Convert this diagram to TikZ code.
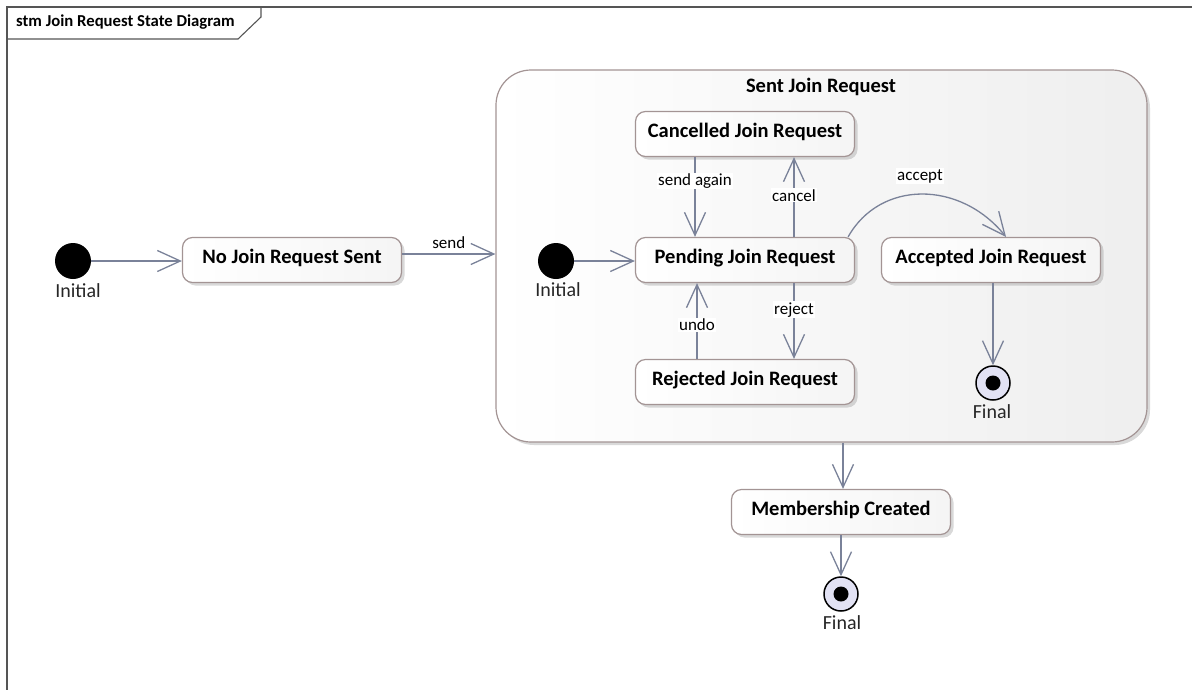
\documentclass[tikz,border=0pt]{standalone}
\usepackage{fontspec}
\setmainfont{Carlito}
\usetikzlibrary{arrows.meta,shadows,calc}
\definecolor{edge}{HTML}{7A8299}
\definecolor{bord}{HTML}{A39494}
\definecolor{finfill}{HTML}{E2E2F4}
\definecolor{framec}{HTML}{555555}
\begin{document}
\begin{tikzpicture}[x=1pt,y=-1pt,
  shad/.style={drop shadow={shadow xshift=3pt,shadow yshift=-3pt,opacity=.3}},
  state/.style={draw=bord, line width=1.2pt, rounded corners=10pt,
    minimum width=219pt, minimum height=45pt, inner sep=0pt,
    left color=white, right color=gray!8, shad,
    text height=15pt, text depth=9pt,
    font=\fontsize{20.5}{24}\selectfont\bfseries},
  comp/.style={draw=bord, line width=1.2pt, rounded corners=35pt,
    left color=white, right color=gray!13, shad, inner sep=0pt},
  tr/.style={draw=edge, line width=1.3pt, -{Straight Barb[length=23pt,width=21pt]}},
  lbl/.style={fill=white, inner sep=1pt, font=\fontsize{17}{19}\selectfont},
  pslbl/.style={inner sep=0pt, font=\fontsize{20}{23}\selectfont, text=black!85},
  init/.style={circle, fill=black, minimum size=36pt, inner sep=0pt},
  fin/.style={circle, draw=black, line width=1.5pt, fill=finfill, minimum size=34pt, inner sep=0pt},
  findot/.style={circle, fill=black, minimum size=15pt, inner sep=0pt}
]
\useasboundingbox (0,0) rectangle (1192,689);
% frame
\draw[framec, line width=1.3pt] (7,695) -- (7,7) -- (1195,7);
\draw[framec, line width=1.1pt] (7,39) -- (238,39) -- (261,17) -- (261,7);
\node[anchor=west, inner sep=0pt, font=\fontsize{16.7}{19}\selectfont\bfseries] (title) at (16,22) {stm Join Request State Diagram};

% left part
\node[init] (i1) at (73,261) {};
\node[pslbl] (i1l) at (78,291) {Initial};
\node[state] (nj) at (292,260) {No Join Request Sent};

% composite
\node[comp, minimum width=651pt, minimum height=372pt] (sent) at (821.5,256) {};
\node[inner sep=0pt, font=\fontsize{20.5}{24}\selectfont\bfseries] (sentl) at (821,87) {Sent Join Request};

\node[state] (canc) at (745,134) {Cancelled Join Request};
\node[state] (pend) at (745,260) {Pending Join Request};
\node[state] (rej) at (745,382) {Rejected Join Request};
\node[state] (acc) at (991,260) {Accepted Join Request};

\node[init] (i2) at (556,261) {};
\node[pslbl] (i2l) at (558,290) {Initial};

\node[fin] (f1) at (993,383) {};
\node[findot] (f1d) at (993,383) {};
\node[pslbl] (f1l) at (992,412) {Final};

\node[state] (mc) at (841,512) {Membership Created};
\node[fin] (f2) at (841,594) {};
\node[findot] (f2d) at (841,594) {};
\node[pslbl] (f2l) at (842,623) {Final};

% transitions
\draw[tr] (i1) -- (nj.west |- i1);
\draw[tr] (nj.east |- 0,254) -- (sent.west |- 0,254) node[lbl, midway, above=4pt] (sendl) {send};
\draw[tr] (i2) -- (pend.west |- i2);
\draw[tr] (canc.south -| 695,0) -- (pend.north -| 695,0) node[lbl, pos=0.3] (sal) {send again};
\draw[tr] (pend.north -| 794,0) -- (canc.south -| 794,0) node[lbl, pos=0.52] (cl) {cancel};
\draw[tr] (rej.north -| 697,0) -- (pend.south -| 697,0) node[lbl, pos=0.45] (ul) {undo};
\draw[tr] (pend.south -| 794,0) -- (rej.north -| 794,0) node[lbl, pos=0.35] (rl) {reject};
\draw[tr] ([xshift=-7pt]pend.north east) .. controls (880,180) and (960,180) .. (acc.north -| 1006,0);
\node[lbl] (al) at (920,176) {accept};
\draw[tr] (acc.south -| f1) -- (f1.north);
\draw[tr] (sent.south -| 843,0) -- (mc.north -| 843,0);
\draw[tr] (mc.south -| f2) -- (f2.north);
\end{tikzpicture}
\end{document}
